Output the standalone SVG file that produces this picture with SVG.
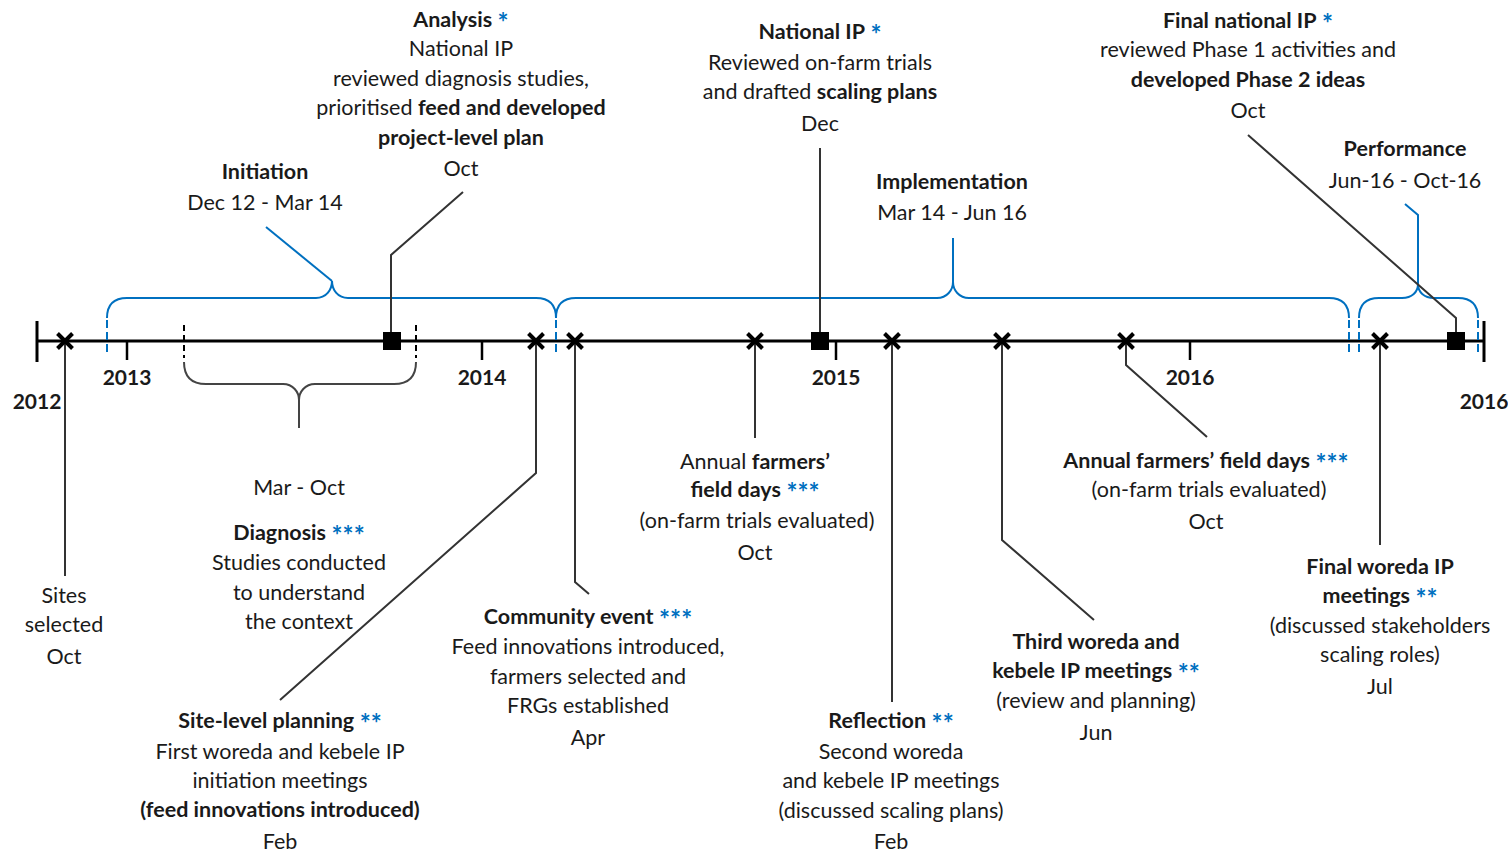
<svg xmlns="http://www.w3.org/2000/svg" width="1508" height="854" viewBox="0 0 1508 854">
  <style>
    text { font-family: "Lato", "Open Sans", "Liberation Sans", sans-serif; font-size: 21.5px; fill: #1a1a1a; text-anchor: middle; }
    .b { font-weight: bold; }
    .star { font-weight: bold; fill: #0070C0; font-size: 26px; }
    .yr { font-weight: bold; font-size: 21px; }
    .axis { stroke: #000; stroke-width: 3; fill: none; }
    .tick { stroke: #000; stroke-width: 2.5; fill: none; }
    .conn { stroke: #333; stroke-width: 2; fill: none; }
    .brace { stroke: #0070C0; stroke-width: 2; fill: none; }
    .bdash { stroke: #0070C0; stroke-width: 2; stroke-dasharray: 8 4; fill: none; }
    .gbrace { stroke: #444; stroke-width: 2; fill: none; }
    .gdash { stroke: #000; stroke-width: 2; stroke-dasharray: 6 4; fill: none; }
  </style>
  <defs>
    <path id="cross" d="M-7.5,-7.5 L7.5,7.5 M-7.5,7.5 L7.5,-7.5" stroke="#000" stroke-width="4" fill="none"/>
    <rect id="sq" x="-9" y="-9" width="18" height="18" fill="#000"/>
  </defs>
  <rect width="1508" height="854" fill="#fff"/>

  <!-- timeline axis -->
  <g id="axis">
    <line class="axis" x1="37" y1="341" x2="1484" y2="341"/>
    <line class="axis" x1="37" y1="321" x2="37" y2="362"/>
    <line class="axis" x1="1484" y1="321" x2="1484" y2="362"/>
    <line class="tick" x1="127" y1="341" x2="127" y2="360"/>
    <line class="tick" x1="482" y1="341" x2="482" y2="360"/>
    <line class="tick" x1="836" y1="341" x2="836" y2="360"/>
    <line class="tick" x1="1190" y1="341" x2="1190" y2="360"/>
    <text class="yr" x="37" y="409">2012</text>
    <text class="yr" x="127" y="385">2013</text>
    <text class="yr" x="482" y="385">2014</text>
    <text class="yr" x="836" y="385">2015</text>
    <text class="yr" x="1190" y="385">2016</text>
    <text class="yr" x="1484" y="409">2016</text>
  </g>

  <!-- phase braces -->
  <g id="braces">
    <path class="brace" d="M107,318 Q107,298 127,298 L316,298 C326,298 332,290 332,281 C332,290 338,298 348,298 L536,298 Q556,298 556,318"/>
    <path class="brace" d="M332,281 L266,227"/>
    <path class="brace" d="M556,318 Q556,298 576,298 L937,298 C947,298 953,290 953,282 C953,290 959,298 969,298 L1329,298 Q1349,298 1349,318"/>
    <path class="brace" d="M953,282 L953,238"/>
    <path class="brace" d="M1359,318 Q1359,298 1379,298 L1402,298 C1412,298 1418,292 1418,284 C1418,292 1424,298 1434,298 L1458,298 Q1478,298 1478,318"/>
    <path class="brace" d="M1418,284 L1418,215 L1405,204"/>
    <line class="bdash" x1="107" y1="320" x2="107" y2="356"/>
    <line class="bdash" x1="556" y1="320" x2="556" y2="356"/>
    <line class="bdash" x1="1349" y1="320" x2="1349" y2="356"/>
    <line class="bdash" x1="1359" y1="320" x2="1359" y2="356"/>
    <line class="bdash" x1="1478" y1="320" x2="1478" y2="356"/>
    <!-- diagnosis period brace -->
    <line class="gdash" x1="184" y1="325" x2="184" y2="358"/>
    <line class="gdash" x1="416" y1="325" x2="416" y2="358"/>
    <path class="gbrace" d="M184,362 Q184,384 206,384 L283,384 C293,384 299,392 299,400 C299,392 305,384 315,384 L394,384 Q416,384 416,362"/>
    <path class="gbrace" d="M299,400 L299,428"/>
  </g>

  <!-- connectors -->
  <g id="connectors">
    <path class="conn" d="M65,341 L65,576"/>
    <path class="conn" d="M391,341 L391,255 L463,192"/>
    <path class="conn" d="M536,341 L536,473 L280,700"/>
    <path class="conn" d="M575,341 L575,582 L589,594"/>
    <path class="conn" d="M755,341 L755,438"/>
    <path class="conn" d="M820,341 L820,148"/>
    <path class="conn" d="M892,341 L892,702"/>
    <path class="conn" d="M1002,341 L1002,540 L1094,620"/>
    <path class="conn" d="M1126,341 L1126,365 L1207,437"/>
    <path class="conn" d="M1456,341 L1456,318 L1248,135"/>
    <path class="conn" d="M1380,341 L1380,545"/>
  </g>

  <!-- markers -->
  <g id="markers">
    <use href="#cross" x="65" y="341"/>
    <use href="#cross" x="536" y="341"/>
    <use href="#cross" x="575" y="341"/>
    <use href="#cross" x="755" y="341"/>
    <use href="#cross" x="892" y="341"/>
    <use href="#cross" x="1002" y="341"/>
    <use href="#cross" x="1126" y="341"/>
    <use href="#cross" x="1380" y="341"/>
    <use href="#sq" x="392" y="341"/>
    <use href="#sq" x="820" y="341"/>
    <use href="#sq" x="1456" y="341"/>
  </g>

  <g id="initiation">
    <text x="265" y="179" class="b">Initiation</text>
    <text x="265" y="210">Dec 12 - Mar 14</text>
  </g>

  <g id="analysis">
    <text x="461" y="27"><tspan class="b">Analysis</tspan> <tspan class="star" dy="5">*</tspan></text>
    <text x="461" y="56">National IP</text>
    <text x="461" y="86">reviewed diagnosis studies,</text>
    <text x="461" y="115">prioritised <tspan class="b">feed and developed</tspan></text>
    <text x="461" y="145" class="b">project-level plan</text>
    <text x="461" y="176">Oct</text>
  </g>

  <g id="national-ip">
    <text x="820" y="39"><tspan class="b">National IP</tspan> <tspan class="star" dy="5">*</tspan></text>
    <text x="820" y="70">Reviewed on-farm trials</text>
    <text x="820" y="99">and drafted <tspan class="b">scaling plans</tspan></text>
    <text x="820" y="131">Dec</text>
  </g>

  <g id="implementation">
    <text x="952" y="189" class="b">Implementation</text>
    <text x="952" y="220">Mar 14 - Jun 16</text>
  </g>

  <g id="final-national-ip">
    <text x="1248" y="28"><tspan class="b">Final national IP</tspan> <tspan class="star" dy="5">*</tspan></text>
    <text x="1248" y="57">reviewed Phase 1 activities and</text>
    <text x="1248" y="87" class="b">developed Phase 2 ideas</text>
    <text x="1248" y="118">Oct</text>
  </g>

  <g id="performance">
    <text x="1405" y="156" class="b">Performance</text>
    <text x="1405" y="188">Jun-16 - Oct-16</text>
  </g>

  <g id="sites-selected">
    <text x="64" y="603">Sites</text>
    <text x="64" y="632">selected</text>
    <text x="64" y="664">Oct</text>
  </g>

  <g id="diagnosis">
    <text x="299" y="495">Mar - Oct</text>
    <text x="299" y="540"><tspan class="b">Diagnosis</tspan> <tspan class="star" dy="5">***</tspan></text>
    <text x="299" y="570">Studies conducted</text>
    <text x="299" y="600">to understand</text>
    <text x="299" y="629">the context</text>
  </g>

  <g id="site-level-planning">
    <text x="280" y="728"><tspan class="b">Site-level planning</tspan> <tspan class="star" dy="5">**</tspan></text>
    <text x="280" y="759">First woreda and kebele IP</text>
    <text x="280" y="788">initiation meetings</text>
    <text x="280" y="817" class="b">(feed innovations introduced)</text>
    <text x="280" y="849">Feb</text>
  </g>

  <g id="community-event">
    <text x="588" y="624"><tspan class="b">Community event</tspan> <tspan class="star" dy="5">***</tspan></text>
    <text x="588" y="654">Feed innovations introduced,</text>
    <text x="588" y="684">farmers selected and</text>
    <text x="588" y="713">FRGs established</text>
    <text x="588" y="745">Apr</text>
  </g>

  <g id="field-days-2015">
    <text x="755" y="469">Annual <tspan class="b">farmers’</tspan></text>
    <text x="755" y="497"><tspan class="b">field days</tspan> <tspan class="star" dy="5">***</tspan></text>
    <text x="757" y="528">(on-farm trials evaluated)</text>
    <text x="755" y="560">Oct</text>
  </g>

  <g id="reflection">
    <text x="891" y="728"><tspan class="b">Reflection</tspan> <tspan class="star" dy="5">**</tspan></text>
    <text x="891" y="759">Second woreda</text>
    <text x="891" y="788">and kebele IP meetings</text>
    <text x="891" y="818">(discussed scaling plans)</text>
    <text x="891" y="849">Feb</text>
  </g>

  <g id="third-woreda">
    <text x="1096" y="649" class="b">Third woreda and</text>
    <text x="1096" y="678"><tspan class="b">kebele IP meetings</tspan> <tspan class="star" dy="5">**</tspan></text>
    <text x="1096" y="708">(review and planning)</text>
    <text x="1096" y="740">Jun</text>
  </g>

  <g id="field-days-2016">
    <text x="1206" y="468"><tspan class="b">Annual farmers’ field days</tspan> <tspan class="star" dy="5">***</tspan></text>
    <text x="1209" y="497">(on-farm trials evaluated)</text>
    <text x="1206" y="529">Oct</text>
  </g>

  <g id="final-woreda-ip">
    <text x="1380" y="574" class="b">Final woreda IP</text>
    <text x="1380" y="603"><tspan class="b">meetings</tspan> <tspan class="star" dy="5">**</tspan></text>
    <text x="1380" y="633">(discussed stakeholders</text>
    <text x="1380" y="662">scaling roles)</text>
    <text x="1380" y="694">Jul</text>
  </g>
</svg>
